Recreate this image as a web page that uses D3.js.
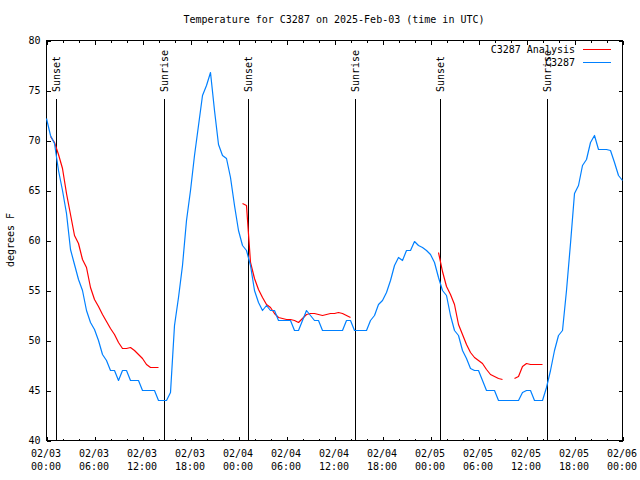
<!DOCTYPE html>
<html><head><meta charset="utf-8">
<script src="https://cdn.jsdelivr.net/npm/d3@7"></script>
<style>
body{margin:0;background:#fff}
svg{display:block}
text{font-family:"DejaVu Sans Mono","Liberation Mono",monospace;font-size:10px;fill:#000}
</style>
</head><body>
<svg id="chart" width="640" height="480"></svg>
<script>
// ---- data ----
const titleText = "Temperature for C3287 on 2025-Feb-03 (time in UTC)";
const yLabelText = "degrees F";
const startTime = "2025-02-03T00:00:00Z";
const endTime = "2025-02-06T00:00:00Z";
const stepHours = 0.5;
const seriesNames = ["C3287 Analysis", "C3287"];
const seriesColors = ["#ff0000", "#0080ff"];
// station observations (blue), every 30 min from 02/03 00:00 UTC
const stationTemps = [
  72.2,70.5,69.7,67.0,65.0,62.7,59.1,57.6,56.1,55.0,53.0,51.8,
  51.1,50.0,48.6,48.0,47.0,47.0,46.0,47.0,47.0,46.0,46.0,46.0,
  45.0,45.0,45.0,45.0,44.0,44.0,44.0,44.8,51.5,54.3,57.5,62.0,
  65.0,68.5,71.5,74.5,75.5,76.8,73.0,69.6,68.5,68.2,66.3,63.5,
  61.0,59.5,59.0,57.5,55.0,53.8,53.0,53.5,53.0,53.0,52.0,52.0,
  52.0,52.0,51.0,51.0,52.0,53.0,52.5,52.0,52.0,51.0,51.0,51.0,
  51.0,51.0,51.0,52.0,52.0,51.0,51.0,51.0,51.0,52.0,52.5,53.6,
  54.0,54.8,56.0,57.5,58.3,58.0,59.0,59.0,59.9,59.5,59.3,59.0,
  58.6,57.8,56.3,55.0,54.5,52.5,51.0,50.5,49.0,48.2,47.2,47.0,
  47.0,46.0,45.0,45.0,45.0,44.0,44.0,44.0,44.0,44.0,44.0,44.8,
  45.0,45.0,44.0,44.0,44.0,45.3,47.0,49.0,50.5,51.0,55.0,59.7,
  64.7,65.5,67.5,68.1,69.8,70.5,69.1,69.1,69.1,69.0,67.8,66.5,
  66.0
];
// analysis (red), same times, null = no value
const analysisTemps = [
  null,70.4,69.8,68.6,67.2,64.7,62.6,60.5,59.7,58.1,57.3,55.3,
  54.1,53.4,52.6,51.9,51.2,50.6,49.8,49.2,49.2,49.3,49.0,48.6,
  48.2,47.6,47.3,47.3,47.3,null,null,null,null,null,null,null,
  null,null,null,null,null,null,null,null,null,null,null,null,
  null,63.7,63.5,57.8,56.2,55.1,54.3,53.6,53.3,52.7,52.3,52.2,
  52.1,52.1,52.0,51.8,52.2,52.6,52.7,52.7,52.6,52.5,52.6,52.7,
  52.7,52.8,52.7,52.5,52.3,null,null,null,null,null,null,null,
  null,null,null,null,null,null,null,null,null,null,null,null,
  null,null,58.8,56.9,55.4,54.6,53.6,51.6,50.6,49.6,48.8,48.3,
  48.0,47.7,47.1,46.6,46.4,46.2,46.1,null,null,46.2,46.4,47.4,
  47.7,47.6,47.6,47.6,47.6,null,null,null,null,null,null,null,
  null,null,null,null,null,null,null,null,null,null,null,null,
  null
];
const sunEventNames = ["Sunset","Sunrise","Sunset","Sunrise","Sunset","Sunrise"];
const sunEventTimes = ["2025-02-03T01:17:00Z","2025-02-03T14:47:00Z","2025-02-04T01:16:00Z",
                       "2025-02-04T14:40:00Z","2025-02-05T01:18:00Z","2025-02-05T14:40:00Z"];
const yTickValues = [40,45,50,55,60,65,70,75,80];
const yDomain = [40,80];

// ---- layout ----
const svg = d3.select("#chart");
const L = 46, R = 622, T = 40, B = 440;
const t0 = new Date(startTime);
const timeAt = i => new Date(t0.getTime() + i * stepHours * 3600e3);
const x = d3.scaleUtc().domain([new Date(startTime), new Date(endTime)]).range([L, R]);
const y = d3.scaleLinear().domain(yDomain).range([B, T]);

const g = svg.append("g").attr("transform", "translate(0.5,0.5)");

// frame
g.append("rect").attr("x", L).attr("y", T).attr("width", R - L).attr("height", B - T)
  .attr("fill", "none").attr("stroke", "#000").attr("stroke-width", 1).attr("shape-rendering","crispEdges");

function styleAxis(sel){
  sel.select(".domain").remove();
  sel.selectAll(".tick line").attr("stroke","#000").attr("shape-rendering","crispEdges");
  sel.selectAll("text").attr("font-family", null).attr("font-size", null);
  sel.attr("font-family", null).attr("font-size", null);
}
const major = d3.utcHour.every(6), minor = d3.utcHour.every(2);
// bottom/top ticks
g.append("g").attr("transform",`translate(0,${B})`)
  .call(d3.axisBottom(x).ticks(minor).tickSize(-2).tickFormat("")).call(styleAxis);
g.append("g").attr("transform",`translate(0,${B})`)
  .call(d3.axisBottom(x).ticks(major).tickSize(-4).tickFormat("")).call(styleAxis);
g.append("g").attr("transform",`translate(0,${T})`)
  .call(d3.axisTop(x).ticks(minor).tickSize(-2).tickFormat("")).call(styleAxis);
g.append("g").attr("transform",`translate(0,${T})`)
  .call(d3.axisTop(x).ticks(major).tickSize(-4).tickFormat("")).call(styleAxis);
// left/right
g.append("g").attr("transform",`translate(${L},0)`)
  .call(d3.axisLeft(y).tickValues(yTickValues).tickSize(-4).tickPadding(6).tickFormat(d3.format("d"))).call(styleAxis);
g.append("g").attr("transform",`translate(${R},0)`)
  .call(d3.axisRight(y).tickValues(yTickValues).tickSize(-4).tickFormat("")).call(styleAxis);

// x labels, two lines
const fmtD = d3.utcFormat("%m/%d"), fmtT = d3.utcFormat("%H:%M");
const xl = svg.append("g");
x.ticks(major).forEach(d => {
  const t = xl.append("text").attr("text-anchor","middle");
  t.append("tspan").attr("x", x(d)).attr("y", 457).text(fmtD(d));
  t.append("tspan").attr("x", x(d)).attr("y", 470).text(fmtT(d));
});

// sun lines
sunEventTimes.forEach((s, i) => {
  const xs = Math.round(x(new Date(s)));
  g.append("line").attr("x1", xs).attr("x2", xs).attr("y1", 98).attr("y2", B)
    .attr("stroke","#000").attr("stroke-width",1).attr("shape-rendering","crispEdges");
  svg.append("text").attr("transform", `translate(${xs + 0.5},92) rotate(-90)`)
    .attr("dy","0.35em").attr("text-anchor","start").text(sunEventNames[i]);
});

// data lines
const lineGen = d3.line().defined(d => d != null)
  .x((d, i) => x(timeAt(i))).y(d => y(d));
g.append("path").datum(analysisTemps).attr("d", lineGen)
  .attr("fill","none").attr("stroke", seriesColors[0]).attr("stroke-width",1.2).attr("stroke-linejoin","round");
g.append("path").datum(stationTemps).attr("d", lineGen)
  .attr("fill","none").attr("stroke", seriesColors[1]).attr("stroke-width",1.2).attr("stroke-linejoin","round");

// legend
seriesNames.forEach((n, i) => {
  const ly = 49 + i * 13;
  svg.append("text").attr("x", 575).attr("y", ly).attr("dy","0.35em").attr("text-anchor","end").text(n);
  g.append("line").attr("x1", 582).attr("x2", 610).attr("y1", ly).attr("y2", ly)
    .attr("stroke", seriesColors[i]).attr("stroke-width",1).attr("shape-rendering","crispEdges");
});

// title & y label
svg.append("text").attr("x", (L + R) / 2).attr("y", 23).attr("text-anchor","middle").text(titleText);
svg.append("text").attr("transform","translate(10,240) rotate(-90)").attr("dy","0.35em")
  .attr("text-anchor","middle").text(yLabelText);
</script>
</body></html>
